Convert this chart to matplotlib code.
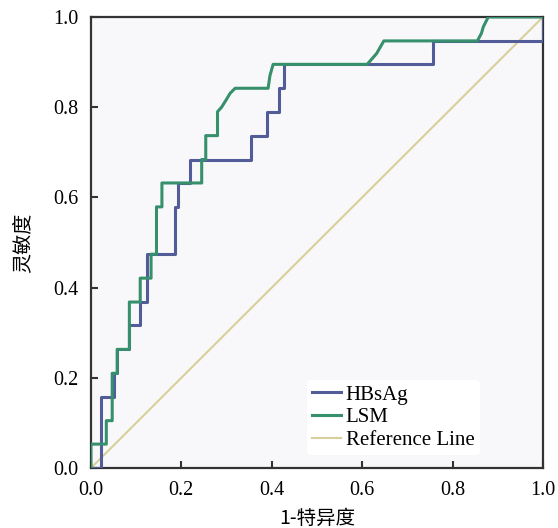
import matplotlib
matplotlib.use("Agg")
import matplotlib.pyplot as plt

# ROC curve points (1 - specificity, sensitivity)
hbsag_x = [0.0, 0.023, 0.023, 0.05, 0.05, 0.058, 0.058, 0.085, 0.085, 0.109, 0.109,
           0.125, 0.125, 0.186, 0.186, 0.193, 0.193, 0.219, 0.219, 0.355, 0.355,
           0.39, 0.39, 0.415, 0.415, 0.428, 0.428, 0.757, 0.757, 1.0, 1.0]
hbsag_y = [0.0, 0.0, 0.158, 0.158, 0.21, 0.21, 0.263, 0.263, 0.316, 0.316, 0.368,
           0.368, 0.474, 0.474, 0.579, 0.579, 0.632, 0.632, 0.684, 0.684, 0.737,
           0.737, 0.789, 0.789, 0.842, 0.842, 0.895, 0.895, 0.947, 0.947, 1.0]

lsm_x = [0.0, 0.0, 0.034, 0.034, 0.047, 0.047, 0.058, 0.058, 0.085, 0.085, 0.109,
         0.109, 0.133, 0.133, 0.145, 0.145, 0.157, 0.157, 0.245, 0.245, 0.254,
         0.254, 0.28, 0.28, 0.289, 0.299, 0.308, 0.319, 0.392, 0.396, 0.403,
         0.611, 0.632, 0.648, 0.855, 0.864, 0.868, 0.879, 1.0]
lsm_y = [0.0, 0.053, 0.053, 0.105, 0.105, 0.21, 0.21, 0.263, 0.263, 0.368, 0.368,
         0.421, 0.421, 0.474, 0.474, 0.579, 0.579, 0.632, 0.632, 0.684, 0.684,
         0.737, 0.737, 0.79, 0.80, 0.816, 0.831, 0.842, 0.842, 0.87, 0.895,
         0.895, 0.919, 0.947, 0.947, 0.964, 0.978, 1.0, 1.0]

ref_x = [0.0, 1.0]
ref_y = [0.0, 1.0]

ticks = [0.0, 0.2, 0.4, 0.6, 0.8, 1.0]
tick_labels = ['0.0', '0.2', '0.4', '0.6', '0.8', '1.0']

plt.rcParams['font.family'] = ['Liberation Serif', 'Noto Sans CJK SC']

fig = plt.figure(figsize=(5.58, 5.28), dpi=100)
ax = fig.add_axes([0.163, 0.1136, 0.81, 0.8542])
ax.set_facecolor('#f8f8fa')

ax.plot(hbsag_x, hbsag_y, color='#525c98', lw=2.2, label='HBsAg', zorder=3)
ax.plot(lsm_x, lsm_y, color='#36906c', lw=2.2, label='LSM', zorder=4)
ax.plot(ref_x, ref_y, color='#d8d09a', lw=1.5, label='Reference Line', zorder=2)

ax.set_xlim(0, 1)
ax.set_ylim(0, 1)
ax.set_xticks(ticks)
ax.set_xticklabels(tick_labels)
ax.set_yticks(ticks)
ax.set_yticklabels(tick_labels)
ax.tick_params(direction='in', length=5, width=1.5, labelsize=14.5, pad=9, color='#333333')

for s in ax.spines.values():
    s.set_linewidth(1.6)
    s.set_color('#333333')

ax.set_xlabel('1-特异度', family=['Noto Sans CJK SC'], fontsize=14, labelpad=6)
ax.set_ylabel('灵敏度', family=['Noto Sans CJK SC'], fontsize=14.5, labelpad=14)

leg = ax.legend(loc='lower left', bbox_to_anchor=(0.455, 0.005), fontsize=15, frameon=True,
                handlelength=1.4, handletextpad=0.2, labelspacing=0.15, borderpad=0.25)
leg.get_frame().set_facecolor('white')
leg.get_frame().set_edgecolor('none')
leg.get_frame().set_alpha(1)

fig.savefig('out.png', dpi=100)
